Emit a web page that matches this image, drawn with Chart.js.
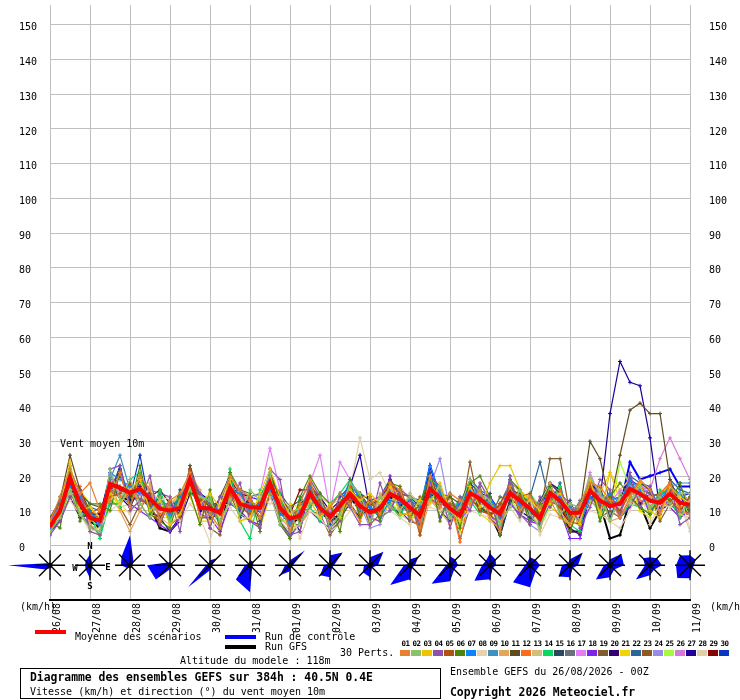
<!DOCTYPE html>
<html>
<head>
<meta charset="utf-8">
<title>Diagramme des ensembles GEFS - vent moyen 10m</title>
<script src="https://cdn.jsdelivr.net/npm/chart.js@4.4.1/dist/chart.umd.min.js"></script>
<style>
  html, body { margin: 0; padding: 0; background: #fff; }
  #wrap { position: relative; width: 740px; height: 700px; overflow: hidden;
          font-family: "DejaVu Sans Mono", monospace; color: #000; }
  #wrap canvas { position: absolute; left: 0; top: 0; }
  .t { position: absolute; white-space: pre; font-size: 10px; line-height: 12px; }
  .b { font-weight: bold; font-size: 11.4px; }
  .bar { position: absolute; width: 31px; height: 4px; }
  .num { position: absolute; width: 11px; text-align: center; font-size: 7.5px; line-height: 9px; font-weight: bold; letter-spacing: -0.4px; }
  .sw { position: absolute; width: 10px; height: 6px; }
  #box { position: absolute; left: 20px; top: 668px; width: 421px; height: 31px; border: 1px solid #000; box-sizing: border-box; }
</style>
</head>
<body>
<div id="wrap">
  <canvas id="gefs" width="740" height="700"></canvas>
  <div class="t" style="left:60px;top:438px">Vent moyen 10m</div>
  <div class="t" style="left:20px;top:601px">(km/h)</div>
  <div class="t" style="left:710px;top:601px">(km/h)</div>
  <div class="bar" style="left:35px;top:630px;background:#ff0000"></div>
  <div class="t" style="left:75px;top:631px">Moyenne des scénarios</div>
  <div class="bar" style="left:225px;top:635px;background:#0000ff"></div>
  <div class="t" style="left:265px;top:631px">Run de contrôle</div>
  <div class="bar" style="left:225px;top:645px;background:#000"></div>
  <div class="t" style="left:265px;top:641px">Run GFS</div>
  <div class="t" style="left:340px;top:647px">30 Perts.</div>
  <div class="t" style="left:180px;top:655px">Altitude du modele : 118m</div>
  <div id="box"></div>
  <div class="t b" style="left:30px;top:671px">Diagramme des ensembles GEFS sur 384h : 40.5N 0.4E</div>
  <div class="t" style="left:30px;top:686px">Vitesse (km/h) et direction (°) du vent moyen 10m</div>
  <div class="t" style="left:450px;top:666px">Ensemble GEFS du 26/08/2026 - 00Z</div>
  <div class="t b" style="left:450px;top:686px">Copyright 2026 Meteociel.fr</div>
  <div id="keys"></div>
</div>
<script>
// one label per day, 6-hourly steps (4 steps per day)
const dateLabels = ['26/08', '27/08', '28/08', '29/08', '30/08', '31/08', '01/09', '02/09', '03/09',
                    '04/09', '05/09', '06/09', '07/09', '08/09', '09/09', '10/09', '11/09'];
const yTickValues = [0, 10, 20, 30, 40, 50, 60, 70, 80, 90, 100, 110, 120, 130, 140, 150];

const mean = [5.4,10,19.4,12, 8,7.1,17.7,16.6, 15.2,16.3,13.4,10.6, 10,10.9,19,10.9, 10.6,9.4,16.6,12,
  11.1,10.9,18,10.9, 7.7,8.6,14.9,10.9, 8.3,11.4,14.9,11.4, 9.5,10.6,14.9,13.4, 10.9,8.6,16.3,13.7,
  10.6,8.6,15.1,13.4, 10.9,9.1,15.1,12.9, 10.6,7.7,15.1,12.9, 9.4,9.4,15.7,12.9, 11.4,12,16.3,14.9,
  12.9,12.3,14.9,12.3, 11.7];
const control = [6,11,18,12, 8,6,17,16, 15,16,13,11, 10,12,19,11, 11,9,17,12, 11,12,18,11, 8,9,15,11, 8,11,16,11,
  10,11,15,13, 12,9,23,14, 11,9,16,13, 11,8,15,13, 11,9,16,13, 9,9,16,14, 11,11,24,19, 20,21,22,17, 17];
const gfs = [5,9,17,11, 7,5,16,14, 13,14,11,5, 4,8,18,10, 10,7,15,11, 10,10,17,10, 6,8,14,10, 7,9,14,10,
  9,10,14,12, 10,8,15,13, 10,7,14,11, 9,3,13,12, 10,7,14,12, 4,4,14,12, 2,3,13,12, 5,10,13,11, 10];

const p01 = [7,14,22,15, 18,10,13,21, 11,20,16,7, 13,15,21,8, 9,5,20,16, 14,8,15,13, 4,12,19,9, 11,15,12,7, 14,9,18,16, 8,5,20,11, 15,13,12,16, 8,4,17,10, 14,11,13,8, 6,12,18,17, 13,8,14,19, 16,9,18,10, 9];
const p02 = [4,8,16,9, 5,4,22,13, 19,12,8,14, 7,13,16,14, 13,7,13,9, 16,13,21,6, 11,6,12,14, 5,9,18,15, 7,14,11,10, 14,12,13,17, 8,11,19,15, 13,6,11,16, 9,5,16,9, 12,11,20,15, 7,15,13,17, 11,14,12,15, 15];
const p03 = [6,11,24,10, 11,8,15,12, 16,19,10,13, 6,9,17,12, 15,11,19,7, 8,15,22,14, 9,11,13,8, 12,8,16,13, 15,12,17,9, 9,13,12,18, 10,7,17,11, 18,23,23,16, 13,10,12,15, 10,6,19,9, 21,13,14,18, 10,8,17,14, 12];
const p04 = [3,7,14,16, 4,3,22,23, 10,13,20,6, 14,4,21,15, 5,14,12,18, 7,5,22,19, 3,4,19,14, 4,15,11,6, 6,18,10,16, 14,5,20,17, 5,14,10,18, 13,4,20,9, 6,14,11,15, 12,5,11,19, 16,8,21,11, 17,9,18,6, 8];
const p05 = [8,12,20,16, 9,11,14,15, 18,13,12,6, 13,8,22,13, 12,9,15,11, 9,13,19,10, 11,7,18,13, 9,10,13,14, 6,9,18,15, 14,3,16,13, 12,10,14,10, 9,12,17,14, 15,9,13,11, 7,12,17,11, 13,10,15,18, 11,14,13,10, 14];
const p06 = [7,5,21,7, 12,12,10,21, 11,23,9,7, 5,15,15,6, 16,5,21,16, 15,4,22,7, 2,14,20,15, 12,4,19,8, 14,7,18,17, 8,12,20,7, 15,5,18,20, 14,3,19,16, 6,12,17,9, 4,12,18,7, 14,18,14,11, 9,14,12,18, 9];
const p07 = [5,12,17,14, 10,6,21,19, 17,15,14,11, 9,14,18,15, 12,10,16,15, 10,12,16,9, 7,9,14,10, 8,11,19,13, 11,8,13,12, 13,11,23,15, 10,12,16,16, 14,8,15,12, 10,9,13,14, 11,6,14,12, 15,12,19,16, 10,13,17,15, 11];
const p08 = [6,8,13,9, 4,5,10,12, 9,14,16,13, 14,7,12,8, 1,13,11,7, 9,14,12,14, 11,2,10,8, 4,6,10,14, 7,13,10,8, 6,12,11,10, 13,7,10,9, 8,6,11,7, 14,3,9,8, 6,12,10,9, 7,5,10,16, 6,12,11,14, 5];
const p09 = [6,13,20,12, 9,7,19,26, 16,14,11,12, 12,13,20,13, 9,10,18,12, 12,12,18,10, 6,10,17,12, 9,12,16,10, 11,10,16,13, 10,11,15,14, 9,10,16,14, 12,9,17,11, 13,7,15,14, 10,11,17,15, 12,13,18,14, 13,14,17,18, 18];
const p10 = [5,11,15,15, 6,4,20,10, 4,10,18,7, 12,14,21,16, 6,13,20,15, 9,8,20,8, 5,6,10,8, 11,8,13,14, 6,15,11,17, 13,3,13,10, 6,13,12,16, 14,7,11,16, 13,4,18,10, 6,7,19,16, 7,8,13,11, 14,13,11,15, 13];
const p11 = [8,13,26,16, 10,6,17,21, 14,20,15,8, 12,9,23,14, 11,13,20,16, 9,12,21,14, 10,7,17,13, 8,12,18,15, 11,9,19,14, 9,11,20,13, 14,12,18,11, 9,10,16,15, 12,7,18,15, 9,10,30,25, 12,26,39,41, 38,38,19,12, 12];
const p12 = [4,10,18,17, 7,10,16,14, 15,13,12,9, 11,8,17,14, 9,12,14,15, 13,8,20,10, 10,8,13,14, 7,12,17,9, 12,14,18,13, 11,7,13,12, 13,1,15,15, 9,11,14,11, 12,10,13,16, 10,7,18,12, 14,9,16,13, 11,15,18,11, 12];
const p13 = [8,12,16,10, 4,3,22,14, 17,12,17,8, 6,14,21,8, 15,6,13,16, 7,13,14,7, 4,6,19,14, 12,13,11,9, 14,7,18,10, 15,12,13,11, 8,6,11,14, 7,5,19,15, 14,12,18,9, 12,7,13,10, 7,14,12,18, 10,15,18,9, 8];
const p14 = [3,12,23,9, 9,2,13,11, 19,21,9,16, 8,15,15,13, 14,5,22,7, 2,16,15,15, 3,14,11,7, 12,15,19,14, 6,14,12,8, 15,4,19,17, 8,14,13,9, 13,5,20,10, 15,11,12,17, 6,4,19,8, 15,8,12,11, 9,16,13,8, 14];
const p15 = [8,7,22,15, 12,11,15,22, 11,19,11,14, 7,16,16,15, 8,14,20,8, 14,7,15,15, 11,13,12,14, 7,8,12,15, 13,14,12,9, 14,8,21,10, 7,12,19,9, 15,3,13,16, 8,13,18,10, 13,6,13,17, 8,15,14,18, 16,8,18,10, 14];
const p16 = [5,7,17,9, 6,3,12,12, 18,10,16,15, 6,8,21,8, 8,12,14,16, 14,15,15,6, 2,7,11,15, 4,7,18,8, 14,8,10,16, 7,6,20,15, 14,2,11,17, 8,14,13,8, 14,6,12,15, 8,13,13,10, 14,9,12,16, 15,14,13,9, 12];
const p17 = [6,12,19,15, 9,7,20,15, 17,14,16,12, 9,13,17,14, 12,11,16,14, 13,15,28,16, 8,9,18,26, 10,24,19,13, 9,13,17,14, 12,7,13,16, 10,11,12,15, 13,9,19,12, 10,12,14,15, 8,10,21,14, 12,16,14,18, 14,10,13,15, 13];
const p18 = [8,10,23,10, 5,4,16,22, 12,10,8,6, 4,8,22,9, 8,4,12,10, 7,6,15,7, 3,6,10,7, 5,8,14,15, 8,7,20,10, 7,6,19,8, 14,7,11,16, 9,4,12,9, 7,6,18,10, 2,2,14,11, 14,8,11,16, 9,15,11,8, 10];
const p19 = [8,11,20,13, 9,8,19,16, 16,16,14,12, 12,9,20,14, 11,12,17,11, 10,12,21,13, 9,11,16,12, 9,12,13,14, 11,13,16,11, 12,10,16,14, 13,10,17,12, 12,11,15,14, 12,9,25,25, 9,11,16,14, 13,12,18,15, 14,15,16,14, 13];
const p20 = [4,7,14,8, 9,9,20,14, 11,17,10,8, 4,7,15,15, 13,6,19,15, 14,8,21,9, 9,4,17,14, 10,13,12,8, 12,13,18,10, 13,7,20,17, 8,12,12,15, 14,7,17,10, 8,6,18,16, 5,3,18,15, 7,14,19,12, 15,10,13,14, 10];
const p21 = [7,8,16,16, 12,5,14,10, 10,19,9,8, 12,15,14,7, 7,13,20,14, 8,5,14,9, 12,11,11,14, 4,8,19,7, 14,8,12,17, 6,13,19,14, 14,4,18,9, 7,14,11,15, 13,12,11,9, 6,11,12,15, 21,16,19,10, 8,14,18,8, 13];
const p22 = [4,14,22,9, 11,10,15,23, 12,19,10,15, 14,8,22,8, 8,13,20,9, 7,14,20,14, 5,13,18,8, 11,15,13,14, 8,14,19,10, 14,13,14,11, 15,6,19,16, 8,12,18,11, 14,24,12,18, 6,12,13,10, 15,9,20,18, 17,10,19,16, 15];
const p23 = [4,9,16,8, 7,10,13,11, 6,12,8,14, 8,13,15,14, 5,3,15,8, 14,7,14,16, 9,11,10,9, 3,7,13,15, 8,14,11,9, 9,14,14,10, 12,7,24,10, 9,6,17,9, 14,11,12,15, 7,6,17,8, 10,8,13,11, 15,7,12,9, 9];
const p24 = [6,11,19,13, 8,8,21,14, 12,15,15,10, 11,12,18,12, 10,9,15,13, 11,10,17,12, 7,10,16,12, 9,7,16,12, 5,6,13,13, 12,10,17,25, 10,11,13,12, 13,10,15,15, 6,4,17,12, 10,12,15,14, 9,13,17,15, 13,10,17,13, 13];
const p25 = [4,9,14,13, 9,3,15,11, 12,17,10,8, 8,12,16,13, 14,7,12,15, 8,13,15,8, 6,6,11,13, 7,13,11,8, 13,9,13,9, 7,12,18,15, 13,5,11,15, 8,12,14,9, 14,5,11,14, 7,12,13,15, 8,24,17,10, 10,14,13,15, 8];
const p26 = [6,11,20,13, 9,7,16,17, 15,17,15,11, 12,11,20,13, 10,11,19,12, 12,12,17,14, 9,11,16,11, 10,10,17,14, 11,13,16,13, 12,9,18,14, 13,11,16,15, 12,10,17,13, 11,10,16,15, 10,11,18,14, 12,13,16,17, 16,25,31,25, 19];
const p27 = [6,9,17,13, 7,8,18,14, 14,17,12,11, 11,10,20,10, 11,10,16,13, 12,10,18,12, 9,8,16,10, 8,12,17,26, 10,12,14,12, 9,7,17,12, 11,10,16,12, 12,8,16,14, 10,7,16,12, 9,8,17,13, 38,53,47,46, 31,10,12,12, 12];
const p28 = [6,10,19,12, 9,6,18,15, 16,14,12,11, 9,12,19,12, 12,8,18,11, 10,12,17,12, 8,10,14,12, 7,11,16,31, 19,21,15,13, 12,9,16,13, 11,8,14,12, 10,10,14,14, 11,4,15,12, 8,9,16,14, 12,11,16,15, 13,11,14,12, 4];
const p29 = [7,12,21,13, 9,9,19,17, 16,17,14,16, 12,12,19,13, 10,9,18,14, 12,11,19,11, 9,16,16,12, 9,11,17,12, 12,11,16,14, 12,10,17,15, 11,10,16,13, 13,10,17,14, 12,9,16,14, 4,4,17,13, 12,12,17,15, 14,13,15,11, 9];
const p30 = [5,9,20,13, 10,5,16,20, 14,26,11,14, 9,15,17,14, 12,12,21,10, 14,13,20,14, 7,12,14,15, 6,14,17,14, 8,13,19,15, 14,11,19,16, 9,11,18,15, 14,10,18,16, 9,10,18,15, 7,11,19,15, 13,14,19,17, 15,14,18,14, 15];

const perturbations = [p01, p02, p03, p04, p05, p06, p07, p08, p09, p10, p11, p12, p13, p14, p15,
                       p16, p17, p18, p19, p20, p21, p22, p23, p24, p25, p26, p27, p28, p29, p30];
const pertColors = ['#e8812f', '#89c26b', '#f0c300', '#8e51ac', '#b3520f', '#4f8507', '#0a84ff', '#e6d3ad',
                    '#3f8fc0', '#e6a65a', '#5f4c1e', '#fa6b1e', '#d2bf7c', '#08d860', '#294a5e', '#69727c',
                    '#e47ef8', '#7f22f0', '#7f5f30', '#330070', '#f2d500', '#2b659c', '#8e5a22', '#9a8ae8',
                    '#a6fb3a', '#d878d8', '#200098', '#e0cfa8', '#850000', '#0b36c0'];

// wind rose per day: sector lengths (px) for N, NE, E, SE, S, SW, W, NW
const roseRadii = [
  [2, 2, 2, 1, 3, 6, 42, 3],
  [11, 3, 2, 3, 13, 6, 5, 6],
  [30, 5, 2, 1, 2, 4, 9, 12],
  [3, 1, 2, 1, 4, 20, 23, 4],
  [5, 10, 2, 2, 5, 31, 4, 2],
  [5, 5, 3, 3, 27, 20, 5, 2],
  [5, 21, 3, 2, 6, 14, 5, 2],
  [10, 18, 4, 3, 12, 14, 6, 2],
  [8, 19, 8, 3, 12, 10, 6, 2],
  [6, 12, 5, 3, 14, 28, 6, 2],
  [9, 8, 8, 6, 16, 26, 4, 2],
  [12, 8, 6, 4, 14, 22, 8, 6],
  [8, 8, 10, 8, 22, 24, 5, 4],
  [6, 18, 8, 4, 12, 16, 8, 3],
  [6, 16, 14, 6, 12, 20, 6, 3],
  [8, 10, 12, 6, 10, 20, 5, 10],
  [10, 8, 4, 4, 13, 18, 14, 14]
];
const roseLevel = -5.714;   // value on the speed axis where the roses sit

// colour keys under the chart
const keys = document.getElementById('keys');
pertColors.forEach((c, k) => {
  const n = document.createElement('div');
  n.className = 'num';
  n.style.left = (400 + 11 * k) + 'px';
  n.style.top = '639px';
  n.textContent = String(k + 1).padStart(2, '0');
  keys.appendChild(n);
  const s = document.createElement('div');
  s.className = 'sw';
  s.style.left = (400 + 11 * k) + 'px';
  s.style.top = '650px';
  s.style.background = c;
  keys.appendChild(s);
});

const toPoints = arr => arr.map((v, i) => ({ x: i, y: v }));

// lower order is drawn on top: mean, then perturbations, then control and GFS underneath
const datasets = [
  { data: toPoints(mean), borderColor: '#ff0000', borderWidth: 4, pointRadius: 0, order: 0 },
  { data: toPoints(control), borderColor: '#0000ff', borderWidth: 2, pointStyle: 'cross',
    pointRadius: 2, pointBorderColor: '#0000ff', pointBorderWidth: 1, order: 2 },
  { data: toPoints(gfs), borderColor: '#000000', borderWidth: 2, pointStyle: 'cross',
    pointRadius: 2, pointBorderColor: '#000000', pointBorderWidth: 1, order: 3 }
];
perturbations.forEach((p, k) => {
  datasets.push({ data: toPoints(p), borderColor: pertColors[k], borderWidth: 1.2, pointStyle: 'cross',
    pointRadius: 2, pointBorderColor: pertColors[k], pointBorderWidth: 1, order: 1 });
});

const rosePlugin = {
  id: 'windRoses',
  afterDraw(chart) {
    const { ctx, scales: { x, y } } = chart;
    const cy = y.getPixelForValue(roseLevel);
    roseRadii.forEach((radii, d) => {
      const cx = x.getPixelForValue(d * 4);
      ctx.save();
      ctx.fillStyle = '#0000ff';
      ctx.beginPath();
      radii.forEach((r, k) => {
        const a = k * Math.PI / 4;
        const px = cx + r * Math.sin(a), py = cy - r * Math.cos(a);
        if (k === 0) ctx.moveTo(px, py); else ctx.lineTo(px, py);
      });
      ctx.closePath();
      ctx.fill();
      ctx.strokeStyle = '#000';
      ctx.lineWidth = 1.4;
      ctx.beginPath();
      ctx.moveTo(cx - 15, cy); ctx.lineTo(cx + 15, cy);
      ctx.moveTo(cx, cy - 15); ctx.lineTo(cx, cy + 15);
      ctx.moveTo(cx - 11, cy - 11); ctx.lineTo(cx + 11, cy + 11);
      ctx.moveTo(cx - 11, cy + 11); ctx.lineTo(cx + 11, cy - 11);
      ctx.stroke();
      ctx.fillStyle = '#000';
      ctx.beginPath();
      ctx.arc(cx, cy, 2.5, 0, Math.PI * 2);
      ctx.fill();
      if (d === 1) {
        ctx.font = 'bold 9px "DejaVu Sans Mono"';
        ctx.textAlign = 'center';
        ctx.textBaseline = 'middle';
        ctx.fillText('N', cx, cy - 19);
        ctx.fillText('S', cx, cy + 21);
        ctx.fillText('W', cx - 15, cy + 3);
        ctx.fillText('E', cx + 18, cy + 2);
      }
      ctx.restore();
    });
  }
};

Chart.defaults.font.family = '"DejaVu Sans Mono", monospace';
Chart.defaults.font.size = 10;
Chart.defaults.color = '#000';

const yAxisBase = {
  min: -15.714,
  max: 155.714,
  afterBuildTicks: ax => { ax.ticks = yTickValues.map(v => ({ value: v })); }
};

new Chart(document.getElementById('gefs'), {
  type: 'line',
  data: { datasets },
  options: {
    responsive: false,
    animation: false,
    layout: { padding: { left: 19, right: 0, top: 0, bottom: 0 } },
    elements: { line: { tension: 0, fill: false } },
    plugins: { legend: { display: false }, tooltip: { enabled: false } },
    scales: {
      x: {
        type: 'linear', min: 0, max: 64,
        afterBuildTicks: ax => { ax.ticks = dateLabels.map((d, k) => ({ value: k * 4 })); },
        afterFit: ax => { ax.height = 100; ax.paddingLeft = 0; ax.paddingRight = 0; },
        grid: { color: '#c0c0c0', drawTicks: false },
        border: { color: '#000', width: 2 },
        ticks: { autoSkip: false, minRotation: 90, maxRotation: 90, labelOffset: 7, padding: 3,
                 callback: v => dateLabels[Math.round(v / 4)] }
      },
      y: {
        ...yAxisBase,
        position: 'left',
        afterFit: ax => { ax.width = 31; ax.paddingTop = 0; ax.paddingBottom = 0; },
        grid: { color: '#c0c0c0', drawTicks: false },
        border: { display: false },
        ticks: { crossAlign: 'far', labelOffset: 3, padding: 0 }
      },
      y2: {
        ...yAxisBase,
        position: 'right',
        afterFit: ax => { ax.width = 50; ax.paddingTop = 0; ax.paddingBottom = 0; },
        grid: { display: false, drawTicks: false },
        border: { display: false },
        ticks: { crossAlign: 'near', labelOffset: 3, padding: 19 }
      }
    }
  },
  plugins: [rosePlugin]
});
</script>
</body>
</html>
